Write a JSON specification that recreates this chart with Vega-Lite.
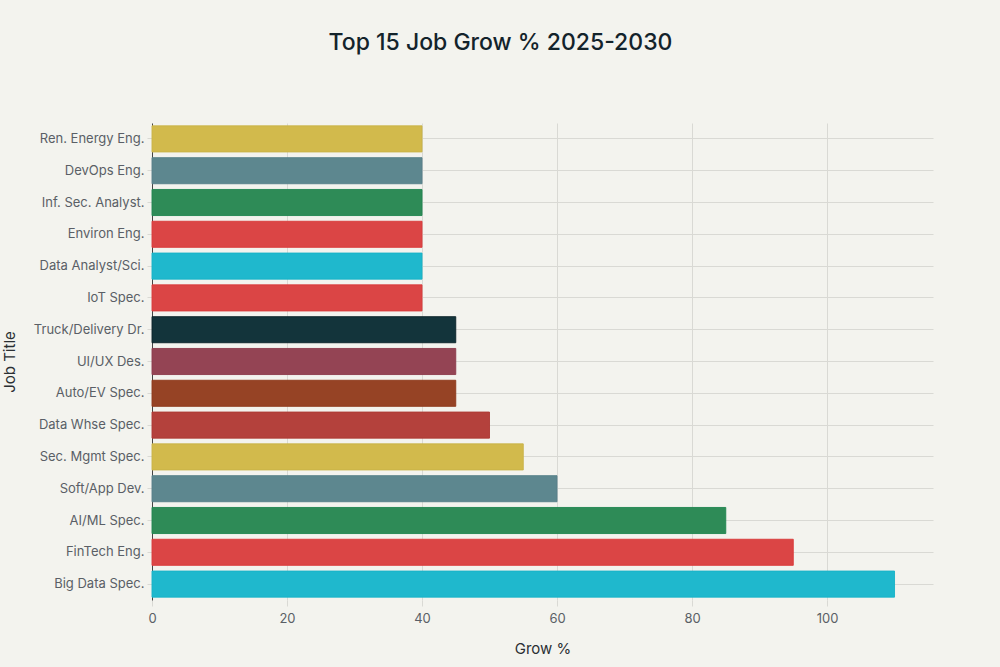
{
  "$schema": "https://vega.github.io/schema/vega-lite/v6.json",
  "width": 781,
  "height": 477,
  "autosize": {"type": "none"},
  "padding": {"left": 152, "top": 123, "right": 67, "bottom": 67},
  "background": "#F3F3EE",
  "title": {
    "text": "Top 15 Job Grow % 2025-2030",
    "font": "Inter",
    "fontSize": 23,
    "fontWeight": 500,
    "color": "#13232B",
    "anchor": "middle",
    "dx": -42,
    "offset": 68
  },
  "data": {
    "values": [
      {"job": "Ren. Energy Eng.", "grow": 40},
      {"job": "DevOps Eng.", "grow": 40},
      {"job": "Inf. Sec. Analyst.", "grow": 40},
      {"job": "Environ Eng.", "grow": 40},
      {"job": "Data Analyst/Sci.", "grow": 40},
      {"job": "IoT Spec.", "grow": 40},
      {"job": "Truck/Delivery Dr.", "grow": 45},
      {"job": "UI/UX Des.", "grow": 45},
      {"job": "Auto/EV Spec.", "grow": 45},
      {"job": "Data Whse Spec.", "grow": 50},
      {"job": "Sec. Mgmt Spec.", "grow": 55},
      {"job": "Soft/App Dev.", "grow": 60},
      {"job": "AI/ML Spec.", "grow": 85},
      {"job": "FinTech Eng.", "grow": 95},
      {"job": "Big Data Spec.", "grow": 110}
    ]
  },
  "mark": {"type": "bar", "strokeWidth": 1, "strokeOpacity": 0.9},
  "encoding": {
    "y": {
      "field": "job",
      "type": "nominal",
      "sort": null,
      "title": "Job Title",
      "scale": {"paddingInner": 0.18, "paddingOuter": 0.09},
      "axis": {
        "bandPosition": 0.5,
        "grid": true,
        "gridColor": "#D9D9D4",
        "gridWidth": 1,
        "domain": true,
        "domainColor": "#444444",
        "domainWidth": 1,
        "ticks": true,
        "tickColor": "#D9D9D4",
        "tickSize": 5,
        "labelFont": "Inter",
        "labelFontSize": 13,
        "labelColor": "#5A5F66",
        "labelPadding": 3,
        "titleFont": "Inter",
        "titleFontSize": 15,
        "titleFontWeight": 400,
        "titleColor": "#2A2F33",
        "titlePadding": 16
      }
    },
    "x": {
      "field": "grow",
      "type": "quantitative",
      "title": "Grow %",
      "scale": {"domain": [0, 115.7], "nice": false, "zero": true},
      "axis": {
        "values": [0, 20, 40, 60, 80, 100],
        "grid": true,
        "gridColor": "#D9D9D4",
        "gridWidth": 1,
        "domain": false,
        "ticks": true,
        "tickColor": "#D9D9D4",
        "tickSize": 6,
        "labelFlush": false,
        "labelFont": "Inter",
        "labelFontSize": 13,
        "labelColor": "#5A5F66",
        "labelPadding": 6,
        "titleFont": "Inter",
        "titleFontSize": 15,
        "titleFontWeight": 400,
        "titleColor": "#2A2F33",
        "titlePadding": 16
      }
    },
    "color": {
      "field": "job",
      "type": "nominal",
      "legend": null,
      "scale": {
        "domain": ["Ren. Energy Eng.", "DevOps Eng.", "Inf. Sec. Analyst.", "Environ Eng.", "Data Analyst/Sci.", "IoT Spec.", "Truck/Delivery Dr.", "UI/UX Des.", "Auto/EV Spec.", "Data Whse Spec.", "Sec. Mgmt Spec.", "Soft/App Dev.", "AI/ML Spec.", "FinTech Eng.", "Big Data Spec."],
        "range": ["#D2BA4C", "#5D878F", "#2E8B57", "#DB4545", "#1FB8CD", "#DB4545", "#13343B", "#944454", "#964325", "#B4413C", "#D2BA4C", "#5D878F", "#2E8B57", "#DB4545", "#1FB8CD"]
      }
    },
    "stroke": {
      "field": "job",
      "type": "nominal",
      "legend": null,
      "scale": {
        "domain": ["Ren. Energy Eng.", "DevOps Eng.", "Inf. Sec. Analyst.", "Environ Eng.", "Data Analyst/Sci.", "IoT Spec.", "Truck/Delivery Dr.", "UI/UX Des.", "Auto/EV Spec.", "Data Whse Spec.", "Sec. Mgmt Spec.", "Soft/App Dev.", "AI/ML Spec.", "FinTech Eng.", "Big Data Spec."],
        "range": ["#C9B247", "#57808A", "#1F8550", "#D93A3A", "#17B2C7", "#D93A3A", "#0B2229", "#8C3B4B", "#8E3A1C", "#AD3833", "#C9B247", "#57808A", "#1F8550", "#D93A3A", "#17B2C7"]
      }
    }
  },
  "config": {
    "view": {"stroke": null}
  }
}
